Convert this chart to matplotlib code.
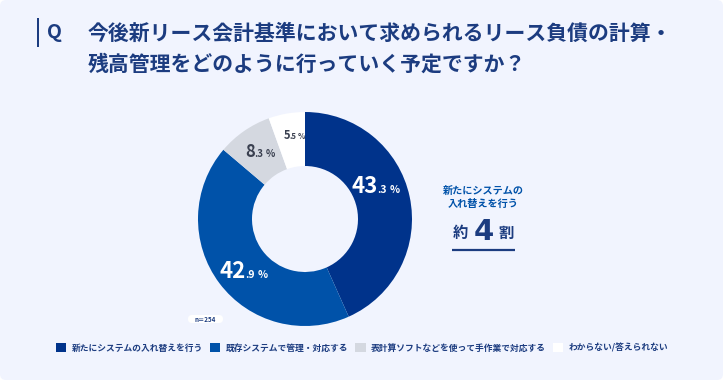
import matplotlib.pyplot as plt
from matplotlib.patches import FancyBboxPatch, Rectangle

plt.rcParams['font.family'] = ['Noto Sans CJK JP', 'DejaVu Sans']

# data
labels = ['新たにシステムの入れ替えを行う', '既存システムで管理・対応する',
          '表計算ソフトなどを使って手作業で対応する', 'わからない/答えられない']
values = [43.3, 42.9, 8.3, 5.5]
colors = ['#00338b', '#0052a9', '#d4d8e0', '#ffffff']
title_lines = ['今後新リース会計基準において求められるリース負債の計算・',
               '残高管理をどのように行っていく予定ですか？']
n_text = 'n＝254'

W, H = 723, 380
NAVY = '#1c3c80'
BG = '#f1f4fe'


def Y(y):
    # pixel row (top down) -> data y (bottom up)
    return H - y


def main():
    fig = plt.figure(figsize=(W / 100, H / 100), dpi=100)
    fig.patch.set_facecolor('white')
    ax = fig.add_axes([0, 0, 1, 1])

    card = FancyBboxPatch((0, 0), W, H, boxstyle='round,pad=0,rounding_size=6',
                          fc=BG, ec='none', zorder=0)
    ax.add_patch(card)

    # title
    ax.add_patch(Rectangle((37, Y(47)), 2, 29, fc=NAVY, ec='none'))
    ax.text(47, Y(33), 'Q', fontsize=14, fontweight='bold', color=NAVY, va='center')
    ax.text(88, Y(33), title_lines[0], fontsize=15, fontweight='bold', color=NAVY, va='center')
    ax.text(88, Y(64), title_lines[1], fontsize=15, fontweight='bold', color=NAVY, va='center')

    # donut
    wedges, _ = ax.pie(values, colors=colors, startangle=90, counterclock=False,
                       center=(305, Y(219)), radius=107, frame=True,
                       wedgeprops=dict(width=54, edgecolor='none'))
    ax.set_xlim(0, W)
    ax.set_ylim(0, H)
    ax.set_aspect('auto')
    ax.axis('off')

    # value labels: big integer part, small decimal part, small %
    def vlabel(x, y, v, big, small, col):
        ip, dp = f'{v:.1f}'.split('.')
        ax.text(x, Y(y), ip, fontsize=big, fontweight='bold', color=col,
                ha='right', va='baseline')
        ax.text(x - 0.5, Y(y), '.' + dp, fontsize=small, fontweight='bold', color=col,
                ha='left', va='baseline')
        ax.text(x + small * 1.5, Y(y), '%', fontsize=small, fontweight='bold', color=col,
                ha='left', va='baseline')

    vlabel(378, 193, values[0], 16, 7.5, 'white')
    vlabel(246, 278, values[1], 16, 7.5, 'white')
    vlabel(255, 157, values[2], 12, 7, '#3a4050')
    vlabel(290, 139, values[3], 8, 5.5, '#3a4050')

    # n label
    ax.add_patch(FancyBboxPatch((188, Y(323)), 35, 8, boxstyle='round,pad=0,rounding_size=4',
                                fc='white', ec='none'))
    ax.text(205.5, Y(319), n_text, fontsize=4.5, color=NAVY, ha='center', va='center',
            fontweight='bold')

    # callout
    ax.text(483, Y(191), '新たにシステムの', fontsize=7.3, fontweight='bold', color='#0052a9',
            ha='center', va='center')
    ax.text(483, Y(204), '入れ替えを行う', fontsize=7.3, fontweight='bold', color='#0052a9',
            ha='center', va='center')
    ax.text(460, Y(233), '約', fontsize=11, fontweight='bold', color=NAVY, ha='center', va='center')
    ax.text(483.5, Y(240), '4', fontsize=21, fontweight='bold', color=NAVY, ha='center',
            va='baseline', family=['DejaVu Sans'])
    ax.text(506, Y(233), '割', fontsize=11, fontweight='bold', color=NAVY, ha='center', va='center')
    ax.plot([452, 515], [Y(250), Y(250)], color=NAVY, lw=1.6, solid_capstyle='butt')

    # legend
    leg = fig.legend(wedges, labels, loc='center', bbox_to_anchor=(362 / W, 1 - 348 / H),
                     ncol=4, frameon=False, handlelength=1.2, handleheight=1.2,
                     handletextpad=0.6, columnspacing=0.8,
                     prop=dict(size=6.3, weight='bold'))
    for t in leg.get_texts():
        t.set_color(NAVY)

    fig.savefig('out.png', dpi=100, facecolor=fig.get_facecolor())


if __name__ == '__main__':
    main()
